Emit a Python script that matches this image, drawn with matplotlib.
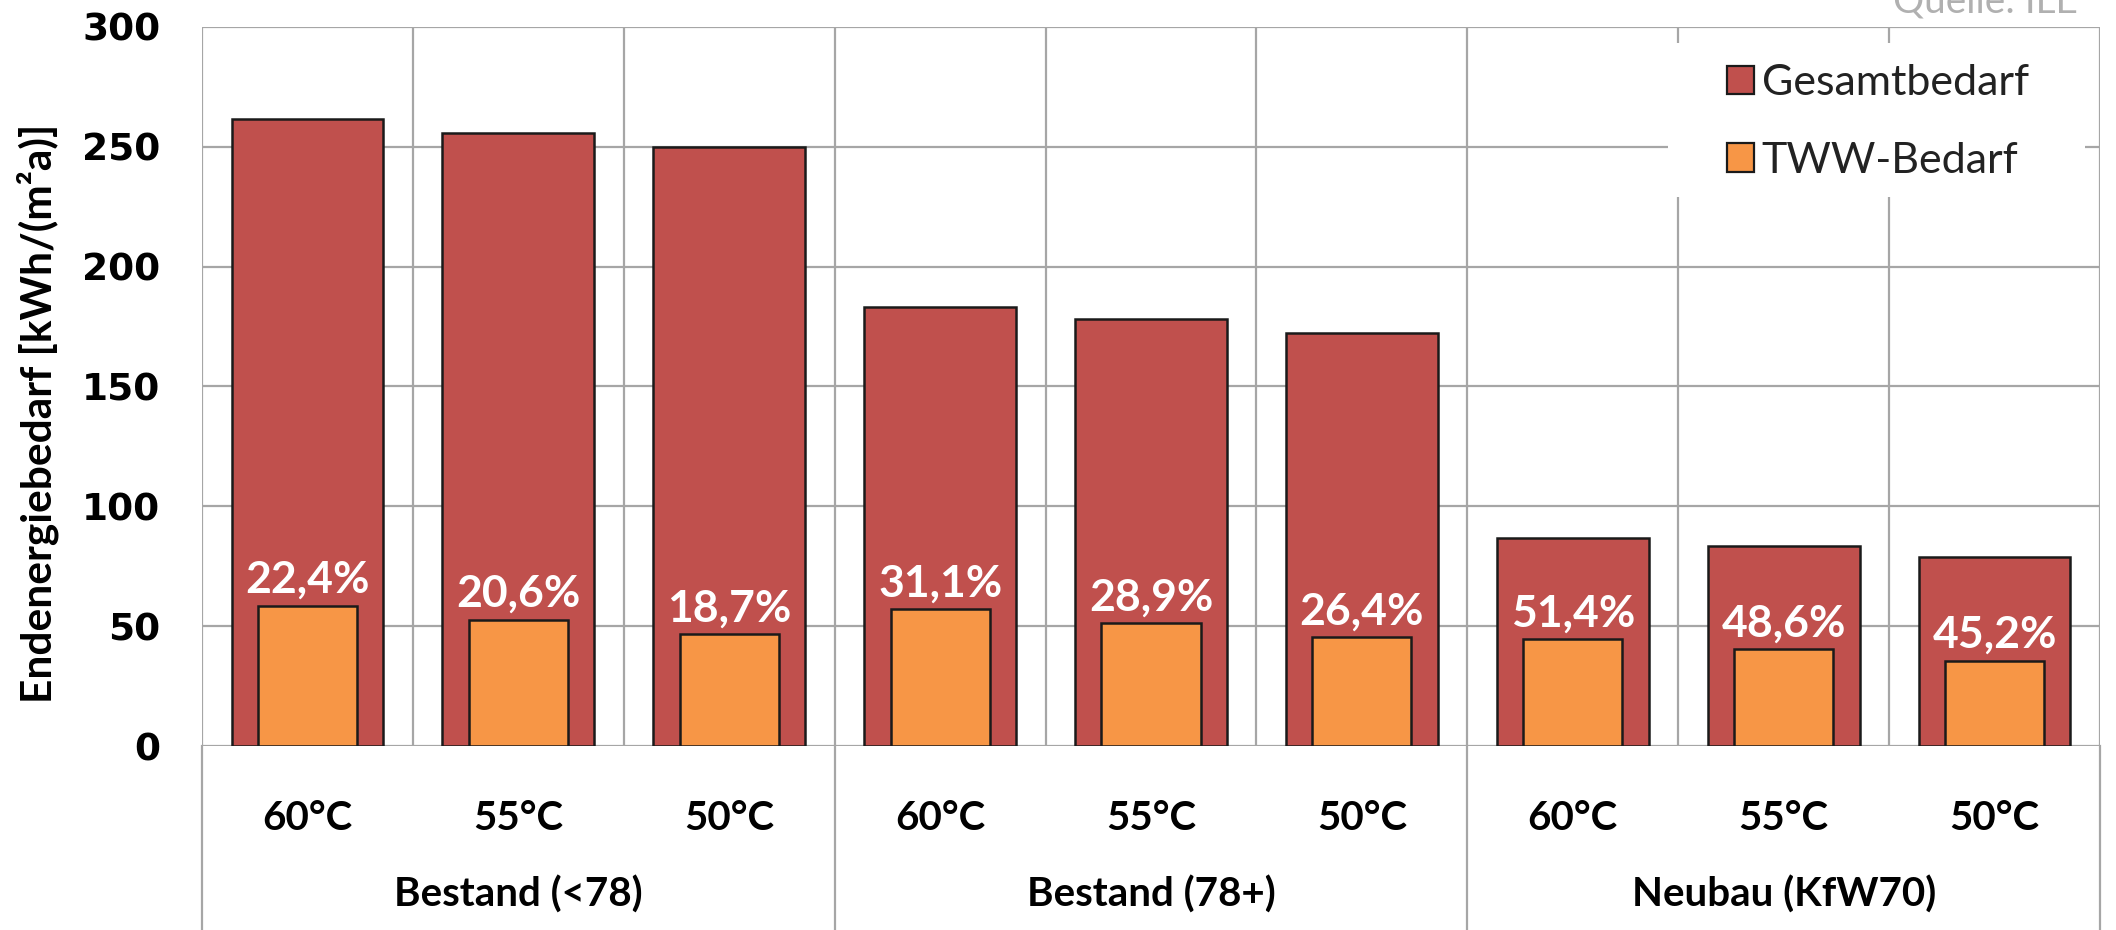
import numpy as np
import matplotlib
matplotlib.use('Agg')
import matplotlib.pyplot as plt
import matplotlib.transforms as mtransforms
from matplotlib.patches import Patch, Rectangle

# data
temps = ['60°C', '55°C', '50°C', '60°C', '55°C', '50°C', '60°C', '55°C', '50°C']
groups = ['Bestand (<78)', 'Bestand (78+)', 'Neubau (KfW70)']
gesamt = [261.5, 255.8, 250.0, 183.2, 178.0, 172.3, 86.9, 83.4, 78.8]
tww = [58.6, 52.7, 46.8, 57.0, 51.4, 45.5, 44.7, 40.5, 35.6]
pct_labels = ['22,4%', '20,6%', '18,7%', '31,1%', '28,9%', '26,4%', '51,4%', '48,6%', '45,2%']
yticks = [0, 50, 100, 150, 200, 250, 300]

RED = '#C0504D'
ORANGE = '#F79646'
GRID = '#A6A6A6'
FONT = 'Lato'

W, H = 2116, 930
fig = plt.figure(figsize=(W / 100, H / 100), dpi=100)
left, right, top, zero = 202, 2100, 27, 746
ax_h = zero - top
ax = fig.add_axes([left / W, (H - zero) / H, (right - left) / W, ax_h / H])

x = np.arange(len(temps))
ax.bar(x, gesamt, width=0.72, color=RED, edgecolor='#1a1a1a', linewidth=1.8, zorder=3)
ax.bar(x, tww, width=0.47, color=ORANGE, edgecolor='#1a1a1a', linewidth=1.8, zorder=4)

for xi, yi, lab in zip(x, tww, pct_labels):
    ax.annotate(lab, (xi, yi), xytext=(0, 4), textcoords='offset points',
                ha='center', va='bottom', color='white', fontsize=32,
                fontweight='bold', family=FONT, zorder=5)

ax.set_xlim(-0.5, len(temps) - 0.5)
ax.set_ylim(0, 300)
ax.set_yticks(yticks)
ax.set_yticklabels([str(v) for v in yticks], fontsize=27, fontweight='bold',
                   family='DejaVu Sans')
ax.tick_params(axis='y', length=0, pad=30)
ax.set_xticks(x)
ax.set_xticklabels(temps, fontsize=29, fontweight='bold', family=FONT)
ax.tick_params(axis='x', length=0, pad=39)
for s in ax.spines.values():
    s.set_visible(False)

ax.yaxis.grid(True, color=GRID, linewidth=1.6, zorder=0)
ax.set_axisbelow(True)
for b in np.arange(-0.5, len(temps), 1.0):
    ax.axvline(b, color=GRID, linewidth=1.6, zorder=1)

# group separators run down through the label area
trans = mtransforms.blended_transform_factory(ax.transData, ax.transAxes)
bottom_ax = -(H - zero) / ax_h
for b in [-0.5, 2.5, 5.5, 8.5]:
    ax.plot([b, b], [0, bottom_ax], color=GRID, linewidth=1.6, transform=trans,
            clip_on=False, zorder=1)
for i, g in enumerate(groups):
    ax.text(3 * i + 1, -0.207, g, transform=trans, ha='center', va='center',
            fontsize=29, fontweight='bold', family=FONT)

fig.text(0.018, 0.555, 'Endenergiebedarf [kWh/(m²a)]', rotation=90,
         ha='center', va='center', fontsize=30.5, fontweight='bold', family=FONT)

# white legend area hiding the gridlines, like the Excel legend box
ax.add_patch(Rectangle(((1668 - left) / (right - left), (zero - 197) / ax_h),
                       (2085 - 1668) / (right - left), 154 / ax_h,
                       transform=ax.transAxes, facecolor='white', edgecolor='none',
                       zorder=2))
handles = [Patch(facecolor=RED, edgecolor='#1a1a1a', linewidth=1.6),
           Patch(facecolor=ORANGE, edgecolor='#1a1a1a', linewidth=1.6)]
leg = ax.legend(handles, ['Gesamtbedarf', 'TWW-Bedarf'], loc='upper left',
                bbox_to_anchor=((1727 - left) / (right - left), (zero - 64) / ax_h),
                prop={'family': FONT, 'size': 31}, frameon=False,
                handlelength=0.63, handleheight=0.63, handletextpad=0.18,
                labelspacing=0.92, borderpad=0, borderaxespad=0)
leg.set_zorder(6)
for t in leg.get_texts():
    t.set_color('#222222')

fig.text(2078 / W, 1 - 12 / H, 'Quelle: ILE', ha='right', va='baseline',
         fontsize=28, color='#B0B0B0', family=FONT)

fig.savefig('out.png', dpi=100, facecolor='white')
